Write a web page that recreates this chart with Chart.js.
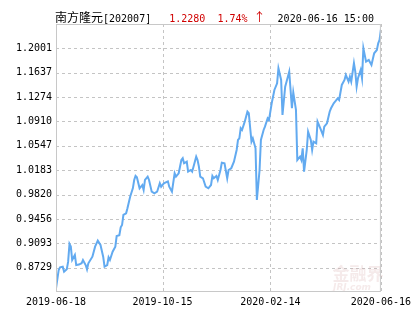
<!DOCTYPE html>
<html>
<head>
<meta charset="utf-8">
<script src="https://cdn.jsdelivr.net/npm/chart.js@4"></script>
<style>
  html, body { margin: 0; padding: 0; background: #fff; }
  #wrap { position: relative; width: 415px; height: 330px; }
  #head { position: absolute; top: 8px; left: 55px; font: 10px "DejaVu Sans Mono", monospace; white-space: pre; color: #000; line-height: 14px; }
  #head .cn { font: 12px "Noto Sans CJK SC", sans-serif; }
  #head .up { color: #d00000; }
</style>
</head>
<body>
<div id="wrap">
  <div id="head"><span class="cn">南方隆元</span>[202007]   <span class="up">1.2280  1.74% <span class="cn">↑</span></span>  2020-06-16 15:00</div>
  <canvas id="navChart" width="415" height="330"></canvas>
</div>
<script>
// trading day index since 2019-06-18 and unit NAV
const dayIndex = [0, 2, 3, 5, 6, 8, 9, 10, 11, 12, 14, 15, 17, 19, 20, 22, 23, 24, 27, 29,
  31, 33, 35, 36, 38, 39, 40, 42, 44, 45, 47, 48, 49, 50, 52, 53, 55, 57, 58, 59,
  60, 62, 64, 65, 66, 68, 69, 71, 73, 75, 77, 78, 80, 83, 84, 86, 88, 89, 91, 93,
  94, 95, 97, 98, 100, 101, 104, 105, 106, 107, 109, 111, 113, 115, 116, 117, 119, 120, 122, 123,
  125, 127, 128, 130, 132, 134, 135, 136, 137, 138, 140, 142, 143, 145, 146, 147, 148, 149, 151, 152,
  154, 155, 157, 158, 160, 162, 164, 165, 167, 168, 170, 171, 173, 174, 175, 176, 178, 179, 181, 182,
  183, 184, 186, 187, 189, 190, 191, 193, 194, 196, 198, 199, 201, 203, 204, 206, 207, 209, 210, 212,
  214, 215, 217, 218, 219, 221, 222, 223, 224, 226, 227, 228, 230, 232, 234, 236, 238, 239, 240, 241];
const navValues = [0.8421, 0.8694, 0.8734, 0.8743, 0.8668, 0.8704, 0.8818, 0.9082, 0.9042, 0.8843, 0.8918, 0.8768, 0.8775, 0.8794, 0.8843, 0.8768, 0.8704, 0.8794, 0.8892, 0.9042,
  0.9131, 0.9067, 0.8892, 0.8743, 0.8768, 0.8883, 0.8843, 0.8967, 0.9042, 0.9201, 0.9212, 0.9331, 0.9365, 0.9515, 0.9540, 0.9615, 0.9788, 0.9913, 1.0037, 1.0097,
  1.0077, 0.9913, 0.9961, 0.9888, 1.0037, 1.0086, 1.0037, 0.9862, 0.9838, 0.9862, 0.9988, 0.9937, 0.9988, 1.0017, 0.9937, 0.9862, 1.0137, 1.0087, 1.0137, 1.0336,
  1.0361, 1.0286, 1.0310, 1.0161, 1.0186, 1.0161, 1.0385, 1.0336, 1.0236, 1.0087, 1.0062, 0.9937, 0.9913, 0.9962, 1.0097, 1.0062, 1.0097, 1.0037, 1.0186, 1.0295,
  1.0286, 1.0062, 1.0186, 1.0212, 1.0310, 1.0485, 1.0634, 1.0659, 1.0809, 1.0783, 1.0907, 1.1056, 1.1033, 1.0609, 1.0659, 1.0585, 1.0510, 0.9739, 1.0186, 1.0634,
  1.0783, 1.0833, 1.0958, 1.0933, 1.1182, 1.1380, 1.1480, 1.1704, 1.1530, 1.1007, 1.1430, 1.1504, 1.1653, 1.1380, 1.1107, 1.1343, 1.1082, 1.0336, 1.0385, 1.0336,
  1.0510, 1.0161, 1.0485, 1.0758, 1.0634, 1.0485, 1.0609, 1.0585, 1.0907, 1.0809, 1.0709, 1.0833, 1.0883, 1.1056, 1.1107, 1.1182, 1.1206, 1.1256, 1.1231, 1.1455,
  1.1530, 1.1604, 1.1504, 1.1579, 1.1504, 1.1779, 1.1653, 1.1430, 1.1555, 1.1679, 1.1555, 1.2003, 1.1803, 1.1828, 1.1753, 1.1928, 1.1977, 1.2077, 1.2126, 1.2280];

const xTickPos = [0, 79, 159, 241];
const xTickLabels = ['2019-06-18', '2019-10-15', '2020-02-14', '2020-06-16'];
const yTickLabels = ['0.8729', '0.9093', '0.9456', '0.9820', '1.0183', '1.0547', '1.0910', '1.1274', '1.1637', '1.2001'];
const yMin = 0.83654;
const yMax = 1.23645;

const monoFont = { family: '"DejaVu Sans Mono", monospace', size: 10 };

// dashed grid, watermark and the grey frame round the plot
const framePlugin = {
  id: 'frameAndMark',
  beforeDatasetsDraw: (chart) => {
    const {ctx, chartArea, scales} = chart;
    ctx.save();
    ctx.strokeStyle = '#c4c4c4';
    ctx.lineWidth = 1;
    ctx.setLineDash([3, 3]);
    scales.y.ticks.forEach(t => {
      const y = Math.round(scales.y.getPixelForValue(t.value)) + 0.5;
      ctx.beginPath();
      ctx.moveTo(chartArea.left, y);
      ctx.lineTo(chartArea.right, y);
      ctx.stroke();
    });
    scales.x.ticks.forEach(t => {
      const x = Math.round(scales.x.getPixelForValue(t.value)) + 0.5;
      ctx.beginPath();
      ctx.moveTo(x, chartArea.top);
      ctx.lineTo(x, chartArea.bottom);
      ctx.stroke();
    });
    ctx.setLineDash([]);
    ctx.fillStyle = 'rgba(215, 170, 170, 0.25)';
    ctx.font = 'bold 17px "Noto Sans CJK SC", sans-serif';
    ctx.textAlign = 'center';
    ctx.fillText('金融界', 358, 280);
    ctx.font = 'italic bold 9px "DejaVu Sans", sans-serif';
    ctx.fillText('JRJ.com', 352, 290);
    ctx.restore();
  },
  afterDraw: (chart) => {
    const {ctx, chartArea} = chart;
    ctx.save();
    ctx.strokeStyle = '#c8c8c8';
    ctx.lineWidth = 1;
    ctx.strokeRect(chartArea.left + 0.5, chartArea.top + 0.5, chartArea.width - 1, chartArea.height - 1);
    ctx.restore();
  }
};

const points = dayIndex.map((d, i) => ({x: d, y: navValues[i]}));

new Chart(document.getElementById('navChart'), {
  type: 'line',
  data: {
    datasets: [{
      data: points,
      borderColor: '#62aaf0',
      borderWidth: 2,
      pointRadius: 0,
      tension: 0,
      fill: false
    }]
  },
  options: {
    responsive: false,
    animation: false,
    layout: { padding: { left: 0, top: 24, right: 23, bottom: 0 } },
    plugins: { legend: { display: false }, tooltip: { enabled: false } },
    scales: {
      x: {
        type: 'linear',
        min: 0,
        max: 241,
        afterFit: (scale) => { scale.height = 38; },
        afterBuildTicks: (scale) => { scale.ticks = xTickPos.map(v => ({value: v})); },
        ticks: {
          color: '#000',
          font: monoFont,
          padding: 4,
          maxRotation: 0,
          autoSkip: false,
          callback: (v) => xTickLabels[xTickPos.indexOf(v)]
        },
        grid: { display: false, drawTicks: false },
        border: { display: false }
      },
      y: {
        min: yMin,
        max: yMax,
        afterFit: (scale) => { scale.width = 56; },
        afterBuildTicks: (scale) => { scale.ticks = yTickLabels.map(t => ({value: parseFloat(t)})); },
        ticks: {
          color: '#000',
          font: monoFont,
          padding: 4,
          callback: (v) => yTickLabels.find(t => parseFloat(t) === v)
        },
        grid: { display: false, drawTicks: false },
        border: { display: false }
      }
    }
  },
  plugins: [framePlugin]
});
</script>
</body>
</html>
